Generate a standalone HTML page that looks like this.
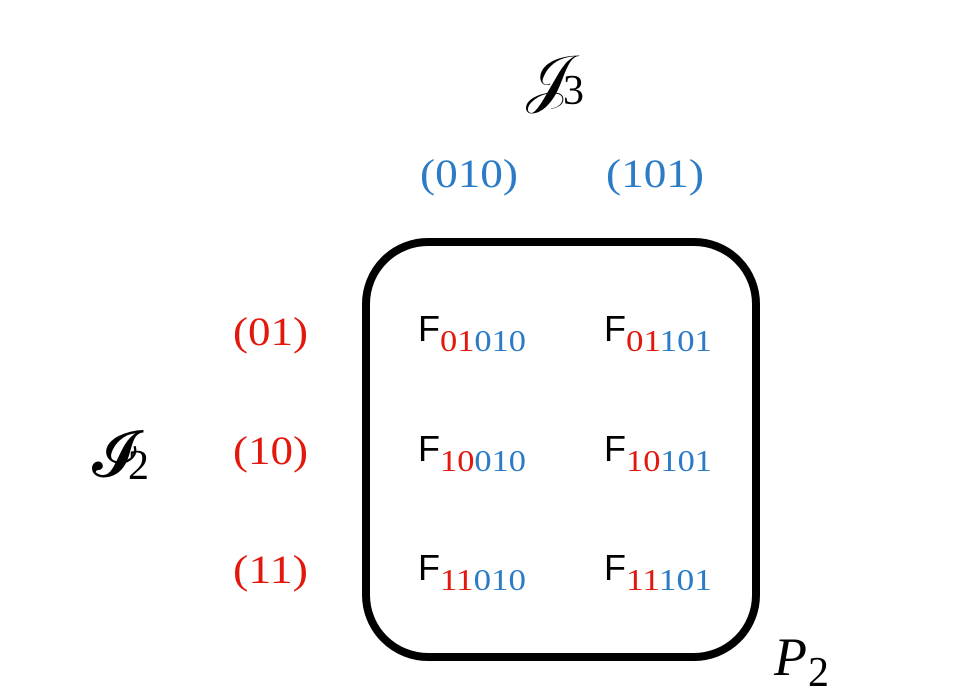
<!DOCTYPE html>
<html><head><meta charset="utf-8"><style>
html,body{margin:0;padding:0;background:#fff;}
svg{display:block;}
.s{font-family:"Liberation Serif",serif;}
.r{fill:#e2180c;} .b{fill:#2b7bc6;}
</style></head><body>
<svg width="954" height="697" viewBox="0 0 954 697" xmlns="http://www.w3.org/2000/svg">
<rect x="366" y="242" width="390" height="415" rx="62" ry="62" fill="none" stroke="#000" stroke-width="8"/>
<g class="s">
<text x="526" y="100" font-size="64">𝒥</text>
<text x="563" y="104" font-size="42">3</text>
<text x="92" y="476" font-size="64">𝓘</text>
<text x="128" y="479" font-size="42">2</text>
<text x="774" y="675" font-size="54" font-style="italic">P</text>
<text x="808" y="686" font-size="42">2</text>
<text x="420" y="187" font-size="40" textLength="98" lengthAdjust="spacingAndGlyphs" class="b">(010)</text>
<text x="606" y="187" font-size="40" textLength="98" lengthAdjust="spacingAndGlyphs" class="b">(101)</text>
<text x="233" y="345" font-size="40" textLength="75" lengthAdjust="spacingAndGlyphs" class="r">(01)</text>
<text x="233" y="464" font-size="40" textLength="75" lengthAdjust="spacingAndGlyphs" class="r">(10)</text>
<text x="233" y="583" font-size="40" textLength="75" lengthAdjust="spacingAndGlyphs" class="r">(11)</text>
</g>
<g font-family="Liberation Sans,sans-serif" font-size="36">
<text x="418" y="341">F</text><text x="604" y="341">F</text>
<text x="418" y="461">F</text><text x="604" y="461">F</text>
<text x="418" y="580">F</text><text x="604" y="580">F</text>
</g>
<g class="s" font-size="31">
<text x="440" y="351" textLength="86" lengthAdjust="spacingAndGlyphs"><tspan class="r">01</tspan><tspan class="b">010</tspan></text>
<text x="626" y="351" textLength="86" lengthAdjust="spacingAndGlyphs"><tspan class="r">01</tspan><tspan class="b">101</tspan></text>
<text x="440" y="471" textLength="86" lengthAdjust="spacingAndGlyphs"><tspan class="r">10</tspan><tspan class="b">010</tspan></text>
<text x="626" y="471" textLength="86" lengthAdjust="spacingAndGlyphs"><tspan class="r">10</tspan><tspan class="b">101</tspan></text>
<text x="440" y="590" textLength="86" lengthAdjust="spacingAndGlyphs"><tspan class="r">11</tspan><tspan class="b">010</tspan></text>
<text x="626" y="590" textLength="86" lengthAdjust="spacingAndGlyphs"><tspan class="r">11</tspan><tspan class="b">101</tspan></text>
</g>
</svg>
</body></html>
